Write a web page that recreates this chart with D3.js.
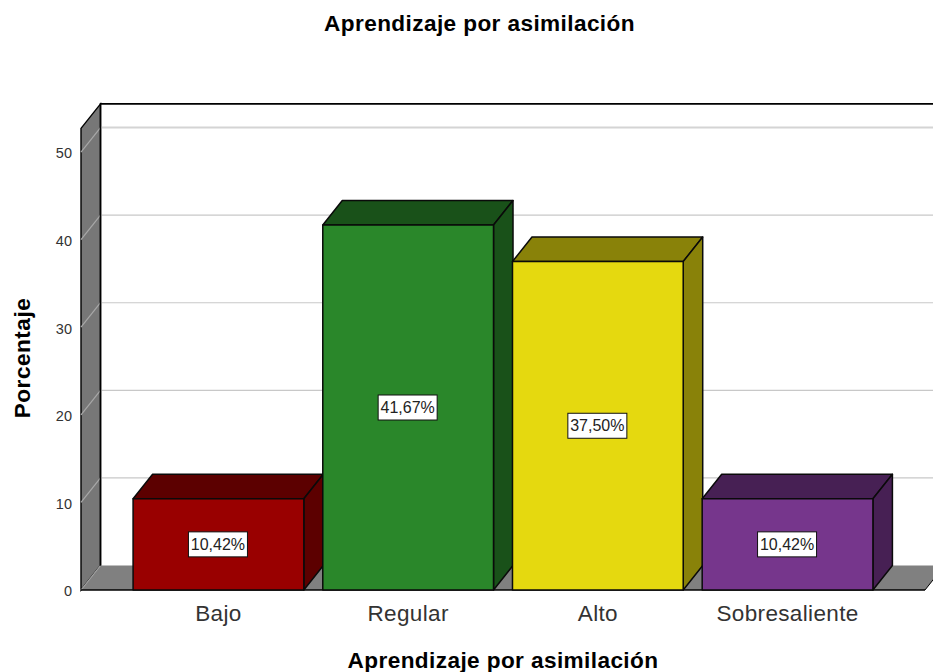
<!DOCTYPE html>
<html><head><meta charset="utf-8">
<script src="https://cdn.jsdelivr.net/npm/d3@7"></script>
<style>html,body{margin:0;padding:0;background:#fff}svg{display:block}text{font-family:"Liberation Sans",Arial,sans-serif;fill:#000}</style>
</head><body><svg id="c" width="933" height="672"></svg>
<script>
const categories=["Bajo","Regular","Alto","Sobresaliente"];
const percentages=[10.42,41.67,37.50,10.42];
const labels=["10,42%","41,67%","37,50%","10,42%"];
const frontColors=["#990000","#2a872a","#e5d90f","#76368c"];
const sideColors=["#5c0000","#195119","#898209","#472054"];
const yTicks=[0,10,20,30,40,50];
const title="Aprendizaje por asimilación";
const yTitle="Porcentaje";

const svg=d3.select("#c");
const dx=19.5,dy=-24.5;
const y=d3.scaleLinear().domain([0,52.7]).range([590,128.4]);
const x=d3.scaleBand().domain(categories).range([123.6,882.4]).paddingInner(0.1).paddingOuter(0.05);
const left=81,right=925;
const poly=p=>p.map(d=>d.join(",")).join(" ");

// back wall
svg.append("rect").attr("x",left+dx).attr("y",y(52.7)+dy).attr("width",933-left-dx+20).attr("height",y(0)-y(52.7)).attr("fill","#fff");
// left wall and floor
svg.append("polygon").attr("points",poly([[left,y(52.7)],[left+dx,y(52.7)+dy],[left+dx,y(0)+dy],[left,y(0)]])).attr("fill","#777").attr("stroke","#000").attr("stroke-width",1.4);
svg.append("polygon").attr("points",poly([[left,y(0)],[left+dx,y(0)+dy],[right+dx,y(0)+dy],[right,y(0)]])).attr("fill","#808080");
// grid
yTicks.filter(d=>d>0).forEach(t=>{
  svg.append("line").attr("x1",left+dx).attr("x2",933).attr("y1",y(t)+dy).attr("y2",y(t)+dy).attr("stroke",t===50?"#d4d4d4":"#c8c8c8").attr("stroke-width",t===50?2:1.2);
});
yTicks.forEach(t=>{
  svg.append("line").attr("x1",left).attr("x2",left+dx).attr("y1",y(t)).attr("y2",y(t)+dy).attr("stroke","#a8a8a8").attr("stroke-width",1.2);
});
// frame
svg.append("path").attr("d",`M${left+dx},${y(0)+dy}V${y(52.7)+dy}H933`).attr("fill","none").attr("stroke","#000").attr("stroke-width",1.6);
svg.append("line").attr("x1",left).attr("x2",right).attr("y1",y(0)).attr("y2",y(0)).attr("stroke","#000").attr("stroke-width",1.6);
svg.append("line").attr("x1",right).attr("x2",right+dx).attr("y1",y(0)).attr("y2",y(0)+dy).attr("stroke","#000").attr("stroke-width",1);

// bars
const bars=svg.selectAll("g.bar").data(categories).join("g").attr("class","bar");
const bs={stroke:"#0a0a0a","stroke-width":1.5,"stroke-linejoin":"round"};
const apply=(s)=>{for(const k in bs)s.attr(k,bs[k]);return s;};
bars.each(function(c,i){
  const g=d3.select(this),x0=x(c),x1=x0+x.bandwidth(),yt=y(percentages[i]),yb=y(0);
  apply(g.append("polygon").attr("points",poly([[x0,yt],[x0+dx,yt+dy],[x1+dx,yt+dy],[x1,yt]])).attr("fill",sideColors[i]));
  apply(g.append("polygon").attr("points",poly([[x1,yt],[x1+dx,yt+dy],[x1+dx,yb+dy],[x1,yb]])).attr("fill",sideColors[i]));
  apply(g.append("rect").attr("x",x0).attr("y",yt).attr("width",x1-x0).attr("height",yb-yt).attr("fill",frontColors[i]));
  const cx=(x0+x1)/2,cy=(yt+yb)/2;
  g.append("rect").attr("x",cx-30).attr("y",cy-12.5).attr("width",59).attr("height",25).attr("fill","#fff").attr("stroke","#111").attr("stroke-width",1);
  g.append("text").attr("x",cx-0.5).attr("y",cy+5.6).attr("text-anchor","middle").attr("font-size",16).style("fill","#222").text(labels[i]);
});

// axes
const yAxis=d3.axisLeft(y).tickValues(yTicks).tickSize(0).tickPadding(9);
const ga=svg.append("g").attr("transform",`translate(${left},0)`).call(yAxis);
ga.select(".domain").remove();
ga.selectAll("text").attr("font-size",14.5).attr("dy","0.4em").style("font-family",'"Liberation Sans",Arial,sans-serif').style("fill","#333");
const xAxis=d3.axisBottom(x).tickSize(0).tickPadding(15);
const gx=svg.append("g").attr("transform",`translate(0,${y(0)})`).call(xAxis);
gx.select(".domain").remove();
gx.selectAll("text").attr("font-size",22.5).style("font-family",'"Liberation Sans",Arial,sans-serif').style("fill","#333").style("letter-spacing","0.35px");

// titles
svg.append("text").attr("x",479.5).attr("y",31).attr("text-anchor","middle").attr("font-size",22.6).style("letter-spacing","0.4px").attr("font-weight","bold").text(title);
svg.append("text").attr("x",503).attr("y",668).attr("text-anchor","middle").attr("font-size",22.6).style("letter-spacing","0.4px").attr("font-weight","bold").text(title);
svg.append("text").attr("transform","translate(30,358) rotate(-90)").attr("text-anchor","middle").attr("font-size",22.6).style("letter-spacing","0.5px").attr("font-weight","bold").text(yTitle);
</script></body></html>
